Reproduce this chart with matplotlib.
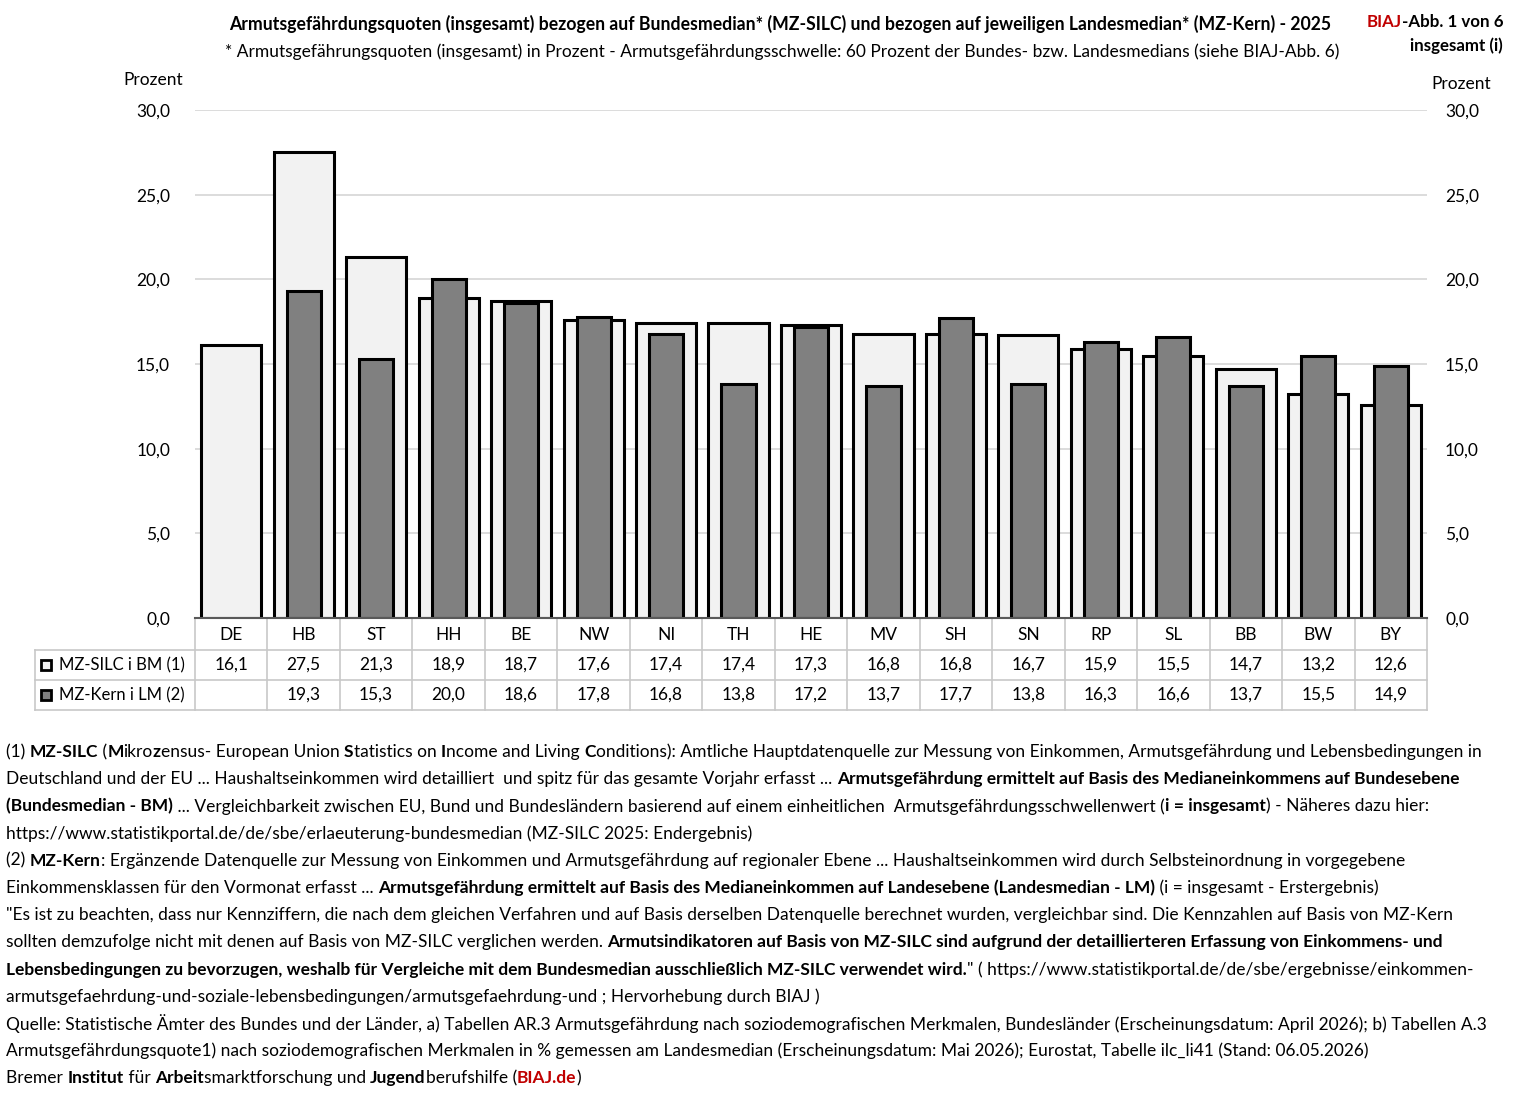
import matplotlib
matplotlib.use("Agg")
import matplotlib.pyplot as plt
from matplotlib import transforms
from matplotlib.patches import Rectangle
import numpy as np

plt.rcParams['font.family'] = ['Lato', 'DejaVu Sans']

# -------------------------------------------------
# Daten
# -------------------------------------------------
laender = ["DE", "HB", "ST", "HH", "BE", "NW", "NI", "TH", "HE",
           "MV", "SH", "SN", "RP", "SL", "BB", "BW", "BY"]
mz_silc = [16.1, 27.5, 21.3, 18.9, 18.7, 17.6, 17.4, 17.4, 17.3,
           16.8, 16.8, 16.7, 15.9, 15.5, 14.7, 13.2, 12.6]
mz_kern = [np.nan, 19.3, 15.3, 20.0, 18.6, 17.8, 16.8, 13.8, 17.2,
           13.7, 17.7, 13.8, 16.3, 16.6, 13.7, 15.5, 14.9]
serien = ["MZ-SILC i BM (1)", "MZ-Kern i LM (2)"]
y_ticks = [0, 5, 10, 15, 20, 25, 30]

titel = ("Armutsgefährdungsquoten (insgesamt) bezogen auf Bundesmedian* (MZ-SILC) "
         "und bezogen auf jeweiligen Landesmedian* (MZ-Kern) - 2025")
untertitel = ("* Armutsgefährungsquoten (insgesamt) in Prozent - Armutsgefährdungsschwelle: "
              "60 Prozent der Bundes- bzw. Landesmedians (siehe BIAJ-Abb. 6)")

RED = "#c00000"
N, B = "normal", "bold"
fussnoten = [
    [("(1) ", N), ("MZ-SILC", B), (" (", N), ("M", B), ("ikro", N), ("z", B),
     ("ensus- European Union ", N), ("S", B), ("tatistics on ", N), ("I", B),
     ("ncome and Living ", N), ("C", B),
     ("onditions): Amtliche Hauptdatenquelle zur Messung von Einkommen, "
      "Armutsgefährdung und Lebensbedingungen in", N)],
    [("Deutschland und der EU ... Haushaltseinkommen wird detailliert  und spitz für "
      "das gesamte Vorjahr erfasst ... ", N),
     ("Armutsgefährdung ermittelt auf Basis des Medianeinkommens auf Bundesebene", B)],
    [("(Bundesmedian - BM)", B),
     (" ... Vergleichbarkeit zwischen EU, Bund und Bundesländern basierend auf einem "
      "einheitlichen  Armutsgefährdungsschwellenwert (", N),
     ("i = insgesamt", B), (") - Näheres dazu hier:", N)],
    [("https://www.statistikportal.de/de/sbe/erlaeuterung-bundesmedian "
      "(MZ-SILC 2025: Endergebnis)", N)],
    [("(2) ", N), ("MZ-Kern", B),
     (": Ergänzende Datenquelle zur Messung von Einkommen und Armutsgefährdung auf "
      "regionaler Ebene ... Haushaltseinkommen wird durch Selbsteinordnung in vorgegebene", N)],
    [("Einkommensklassen für den Vormonat erfasst ... ", N),
     ("Armutsgefährdung ermittelt auf Basis des Medianeinkommen auf Landesebene "
      "(Landesmedian - LM)", B),
     (" (i = insgesamt - Erstergebnis)", N)],
    [("\"Es ist zu beachten, dass nur Kennziffern, die nach dem gleichen Verfahren und "
      "auf Basis derselben Datenquelle berechnet wurden, vergleichbar sind. Die Kennzahlen "
      "auf Basis von MZ-Kern", N)],
    [("sollten demzufolge nicht mit denen auf Basis von MZ-SILC verglichen werden. ", N),
     ("Armutsindikatoren auf Basis von MZ-SILC sind aufgrund der detaillierteren "
      "Erfassung von Einkommens- und", B)],
    [("Lebensbedingungen zu bevorzugen, weshalb für Vergleiche mit dem Bundesmedian "
      "ausschließlich MZ-SILC verwendet wird.", B),
     ("\" ( https://www.statistikportal.de/de/sbe/ergebnisse/einkommen-", N)],
    [("armutsgefaehrdung-und-soziale-lebensbedingungen/armutsgefaehrdung-und ; "
      "Hervorhebung durch BIAJ )", N)],
    [("Quelle: Statistische Ämter des Bundes und der Länder, a) Tabellen AR.3 "
      "Armutsgefährdung nach soziodemografischen Merkmalen, Bundesländer "
      "(Erscheinungsdatum: April 2026); b) Tabellen A.3", N)],
    [("Armutsgefährdungsquote1) nach soziodemografischen Merkmalen in % gemessen am "
      "Landesmedian (Erscheinungsdatum: Mai 2026); Eurostat, Tabelle ilc_li41 "
      "(Stand: 06.05.2026)", N)],
    [("Bremer ", N), ("Institut", B), (" für ", N), ("Arbeit", B),
     ("smarktforschung und ", N), ("Jugend", B), ("berufshilfe (", N),
     ("BIAJ.de", B, RED), (")", N)],
]


def fmt(v):
    return f"{v:.1f}".replace(".", ",")


# -------------------------------------------------
# Figur und Hilfsfunktionen (Pixelkoordinaten)
# -------------------------------------------------
W, H = 1519, 1096
fig = plt.figure(figsize=(W / 100, H / 100), dpi=100)
renderer = fig.canvas.get_renderer()


def fx(px):
    return px / W


def fy(py):
    return 1 - py / H


def text_width(s, weight, size):
    t = fig.text(0, 0, s, fontsize=size, fontweight=weight)
    w = t.get_window_extent(renderer).width
    t.remove()
    return w


def seg_width(s, weight, size):
    # Rahmen mit "|" damit Leerzeichen am Rand mitgezählt werden
    return text_width("|" + s + "|", weight, size) - text_width("||", weight, size)


def line_width(segs, size):
    return sum(seg_width(s[0], s[1], size) for s in segs)


def fit_size(segs, target, base=12.0):
    return base * target / line_width(segs, base)


def draw_rich(segs, x, y, size, ha="left"):
    if ha != "left":
        total = line_width(segs, size)
        x = x - total if ha == "right" else x - total / 2
    for s in segs:
        color = s[2] if len(s) > 2 else "black"
        fig.text(fx(x), fy(y), s[0], fontsize=size, fontweight=s[1],
                 color=color, ha="left", va="center")
        x += seg_width(s[0], s[1], size)


# -------------------------------------------------
# Balken
# -------------------------------------------------
ax = fig.add_axes([fx(195), fy(618), fx(1427) - fx(195), fy(110) - fy(618)])
x = np.arange(len(laender))
ax.bar(x, mz_silc, width=0.83, color="#f2f2f2", edgecolor="black",
       linewidth=2.2, zorder=2)
ax.bar(x, mz_kern, width=0.47, color="#808080", edgecolor="black",
       linewidth=2.2, zorder=3)
ax.set_xlim(-0.5, len(laender) - 0.5)
ax.set_ylim(0, 30)
ax.set_xticks([])
ax.set_yticks(y_ticks)
ax.set_yticklabels([fmt(v) for v in y_ticks])
ax.yaxis.grid(True, color="#d9d9d9", linewidth=1.3)
ax.set_axisbelow(True)
for side in ["top", "left", "right"]:
    ax.spines[side].set_visible(False)
ax.spines["bottom"].set_color("#595959")
ax.spines["bottom"].set_linewidth(1.5)
ax.spines["bottom"].set_zorder(4)
ax.tick_params(axis="y", length=0, pad=18, labelsize=12.5)

ax2 = ax.twinx()
ax2.set_ylim(0, 30)
ax2.set_yticks(y_ticks)
ax2.set_yticklabels([fmt(v) for v in y_ticks])
ax2.tick_params(axis="y", length=0, pad=13, labelsize=12.5)
for side in ["top", "left", "right", "bottom"]:
    ax2.spines[side].set_visible(False)

fig.text(fx(153), fy(80), "Prozent", fontsize=12.5, ha="center", va="center")
fig.text(fx(1461), fy(84), "Prozent", fontsize=12.5, ha="center", va="center")

# -------------------------------------------------
# Datentabelle unter der Achse
# -------------------------------------------------
grid_c = "#c8c8c8"
trans = transforms.blended_transform_factory(ax.transData, fig.transFigure)
for i in range(len(laender) + 1):
    ax.plot([i - 0.5, i - 0.5], [fy(618), fy(710)], color=grid_c, lw=1.2,
            transform=trans, clip_on=False)
for py in [650, 680, 710]:
    fig.add_artist(plt.Line2D([fx(35), fx(1427)], [fy(py), fy(py)],
                              color=grid_c, lw=1.2))
fig.add_artist(plt.Line2D([fx(35), fx(35)], [fy(650), fy(710)], color=grid_c, lw=1.2))

for i, land in enumerate(laender):
    ax.text(i, fy(635), land, transform=trans, ha="center", va="center", fontsize=12.5)
    ax.text(i, fy(665), fmt(mz_silc[i]), transform=trans, ha="center",
            va="center", fontsize=12.5)
    if not np.isnan(mz_kern[i]):
        ax.text(i, fy(695), fmt(mz_kern[i]), transform=trans, ha="center",
                va="center", fontsize=12.5)

for py, label, fc in [(665, serien[0], "#f2f2f2"), (695, serien[1], "#808080")]:
    fig.add_artist(Rectangle((fx(41), fy(py + 5)), fx(10), 10 / H, facecolor=fc,
                             edgecolor="black", linewidth=2))
    fig.text(fx(59), fy(py), label, fontsize=12, ha="left", va="center")

# -------------------------------------------------
# Titel
# -------------------------------------------------
t_segs = [(titel, B)]
draw_rich(t_segs, 780, 24, fit_size(t_segs, 1094), ha="center")
u_segs = [(untertitel, N)]
draw_rich(u_segs, 782, 52, fit_size(u_segs, 1111), ha="center")

r1 = [("BIAJ", B, RED), ("-Abb. 1 von 6", B)]
r_size = fit_size(r1, 136)
draw_rich(r1, 1503, 22, r_size, ha="right")
draw_rich([("insgesamt (i)", B)], 1503, 46, r_size, ha="right")

# -------------------------------------------------
# Fußnoten
# -------------------------------------------------
f_size = fit_size(fussnoten[10], 1478)
y0, dy = 752, 27.2
for k, segs in enumerate(fussnoten):
    draw_rich(segs, 6, y0 + k * dy, f_size)

fig.savefig("out.png", dpi=100)
